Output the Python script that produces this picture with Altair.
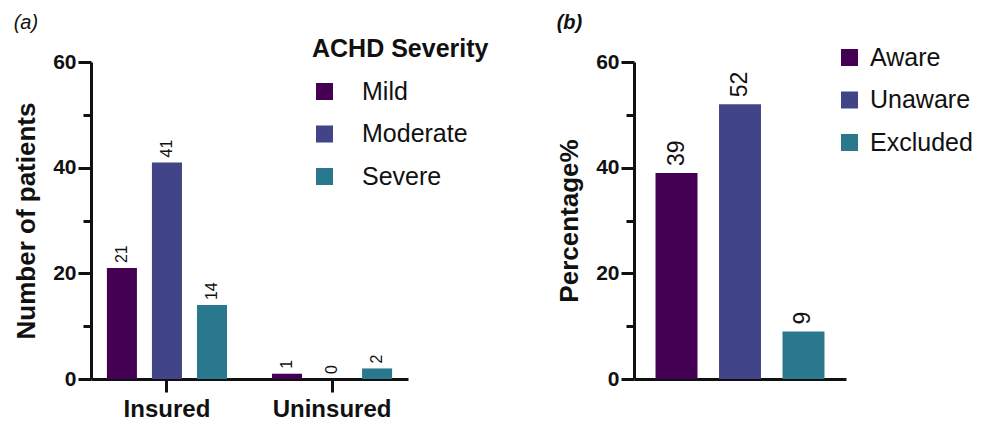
import altair as alt
import pandas as pd

# ---- data ----
groups = ["Insured", "Uninsured"]
severities = ["Mild", "Moderate", "Severe"]
insured_counts = [21, 41, 14]
uninsured_counts = [1, 0, 2]

awareness = ["Aware", "Unaware", "Excluded"]
percentages = [39, 52, 9]

major_ticks = [0, 20, 40, 60]
minor_ticks = [10, 30, 50]

colors = ["#440154", "#414487", "#2a788e"]

FONT = "Liberation Sans"
INK = "#111111"
LINE = "#111111"

rows = []
for s, v in zip(severities, insured_counts):
    rows.append({"group": "Insured", "severity": s, "count": v})
for s, v in zip(severities, uninsured_counts):
    rows.append({"group": "Uninsured", "severity": s, "count": v})
df_a = pd.DataFrame(rows)
df_b = pd.DataFrame({"status": awareness, "pct": percentages})


def major_axis(title):
    return alt.Axis(
        title=title, values=major_ticks, orient="left",
        grid=False, ticks=True, domain=True, tickSize=13, tickWidth=3, domainWidth=3,
        tickColor=LINE, domainColor=LINE,
        labelFont=FONT, labelFontSize=21, labelFontWeight="bold", labelColor=INK,
        labelPadding=2,
        titleFont=FONT, titleFontSize=26, titleFontWeight="bold", titleColor=INK,
        titlePadding=13,
    )


def minor_axis():
    return alt.Axis(
        title=None, values=minor_ticks, orient="left", labels=False, domain=False,
        grid=False, ticks=True, tickSize=8, tickWidth=3, tickColor=LINE,
    )


# ---- panel a ----
x_a = alt.X("group:N", sort=groups,
            scale=alt.Scale(paddingInner=0.2, paddingOuter=0.06),
            axis=alt.Axis(title=None, labelAngle=0, labelFont=FONT, labelFontSize=24,
                          labelFontWeight="bold", labelColor=INK, ticks=True, tickSize=13,
                          tickWidth=3, domain=True, domainWidth=3, tickColor=LINE,
                          domainColor=LINE, labelPadding=5))
xo_a = alt.XOffset("severity:N", sort=severities,
                   scale=alt.Scale(paddingInner=0.333, paddingOuter=0.133))
yscale = alt.Scale(domain=[0, 60])

bars_a = alt.Chart(df_a).mark_bar().encode(
    x=x_a, xOffset=xo_a,
    y=alt.Y("count:Q", scale=yscale, axis=major_axis("Number of patients")),
    color=alt.Color("severity:N", sort=severities,
                    scale=alt.Scale(domain=severities, range=colors),
                    legend=alt.Legend(title="ACHD Severity", orient="none",
                                      legendX=221, legendY=-25,
                                      symbolType="square", symbolSize=289,
                                      symbolStrokeWidth=0,
                                      titleFont=FONT, titleFontSize=25,
                                      titleFontWeight="bold", titleColor=INK,
                                      titlePadding=17,
                                      labelFont=FONT, labelFontSize=25, labelColor=INK,
                                      labelOffset=25, rowPadding=16.5))
)
text_a = alt.Chart(df_a).mark_text(angle=270, align="left", baseline="middle", dx=5,
                                   font=FONT, fontSize=16, color=INK).encode(
    x=x_a, xOffset=xo_a,
    y=alt.Y("count:Q", scale=yscale, axis=minor_axis()),
    text=alt.Text("count:Q"),
)

panel_a = alt.layer(bars_a, text_a).resolve_axis(y="independent").properties(
    width=317, height=317,
    title=alt.TitleParams("(a)", anchor="start", font=FONT, fontSize=20,
                          fontStyle="italic", fontWeight="normal", color=INK,
                          offset=4),
)

# ---- panel b ----
x_b = alt.X("status:N", sort=awareness,
            scale=alt.Scale(paddingInner=0.339, paddingOuter=0.339),
            axis=alt.Axis(title=None, labels=False, ticks=False, domain=True,
                          domainWidth=3, domainColor=LINE))
bars_b = alt.Chart(df_b).mark_bar().encode(
    x=x_b,
    y=alt.Y("pct:Q", scale=yscale, axis=major_axis("Percentage%")),
    color=alt.Color("status:N", sort=awareness,
                    scale=alt.Scale(domain=awareness, range=colors),
                    legend=alt.Legend(title=None, orient="none",
                                      legendX=203, legendY=-17,
                                      symbolType="square", symbolSize=289,
                                      symbolStrokeWidth=0,
                                      labelFont=FONT, labelFontSize=25, labelColor=INK,
                                      labelOffset=8, rowPadding=16.5))
)
text_b = alt.Chart(df_b).mark_text(angle=270, align="left", baseline="middle", dx=7,
                                   font=FONT, fontSize=23, color=INK).encode(
    x=x_b,
    y=alt.Y("pct:Q", scale=yscale, axis=minor_axis()),
    text=alt.Text("pct:Q"),
)
panel_b = alt.layer(bars_b, text_b).resolve_axis(y="independent").properties(
    width=212, height=317,
    title=alt.TitleParams("(b)", anchor="start", font=FONT, fontSize=20,
                          fontStyle="italic", fontWeight="bold", color=INK,
                          offset=12),
)

chart = alt.hconcat(panel_a, panel_b, spacing=67).resolve_scale(
    color="independent"
).configure_view(stroke=None)

chart.save("out.html", embed_options={"renderer": "svg", "actions": False})
